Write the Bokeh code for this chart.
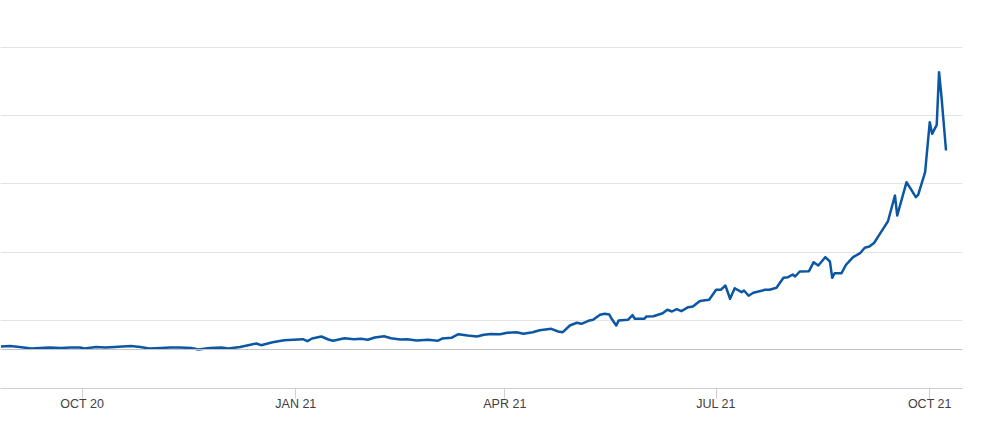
from datetime import datetime, timedelta
from bokeh.plotting import figure
from bokeh.models import Range1d, FixedTicker, Span, ColumnDataSource
from bokeh.embed import file_html
from bokeh.resources import INLINE

# ---- data ----
dates = [
    "2020-08-27", "2020-08-31", "2020-09-04", "2020-09-09", "2020-09-13", "2020-09-17",
    "2020-09-22", "2020-09-26", "2020-09-30", "2020-10-02", "2020-10-07", "2020-10-11",
    "2020-10-15", "2020-10-22", "2020-10-26", "2020-10-30", "2020-11-04", "2020-11-08",
    "2020-11-12", "2020-11-17", "2020-11-20", "2020-11-25", "2020-11-30", "2020-12-03",
    "2020-12-08", "2020-12-11", "2020-12-15", "2020-12-17", "2020-12-22", "2020-12-27",
    "2021-01-04", "2021-01-06", "2021-01-08", "2021-01-12", "2021-01-15", "2021-01-17",
    "2021-01-22", "2021-01-26", "2021-01-29", "2021-02-01", "2021-02-04", "2021-02-08",
    "2021-02-11", "2021-02-15", "2021-02-18", "2021-02-22", "2021-02-27", "2021-03-03",
    "2021-03-05", "2021-03-09", "2021-03-12", "2021-03-16", "2021-03-20", "2021-03-23",
    "2021-03-26", "2021-03-30", "2021-04-02", "2021-04-06", "2021-04-09", "2021-04-13",
    "2021-04-16", "2021-04-21", "2021-04-24", "2021-04-26", "2021-04-29", "2021-05-02",
    "2021-05-04", "2021-05-07", "2021-05-09", "2021-05-12", "2021-05-14", "2021-05-16",
    "2021-05-17", "2021-05-19", "2021-05-20", "2021-05-24", "2021-05-26", "2021-05-27",
    "2021-05-31", "2021-06-01", "2021-06-04", "2021-06-08", "2021-06-10", "2021-06-12",
    "2021-06-14", "2021-06-16", "2021-06-19", "2021-06-21", "2021-06-24", "2021-06-28",
    "2021-07-01", "2021-07-03", "2021-07-05", "2021-07-07", "2021-07-09", "2021-07-12",
    "2021-07-13", "2021-07-15", "2021-07-17", "2021-07-21", "2021-07-22", "2021-07-24",
    "2021-07-27", "2021-07-30", "2021-08-01", "2021-08-03", "2021-08-04", "2021-08-06",
    "2021-08-10", "2021-08-12", "2021-08-14", "2021-08-17", "2021-08-19", "2021-08-20",
    "2021-08-21", "2021-08-24", "2021-08-26", "2021-08-27", "2021-08-29", "2021-09-01",
    "2021-09-03", "2021-09-05", "2021-09-07", "2021-09-10", "2021-09-13", "2021-09-16",
    "2021-09-17", "2021-09-21", "2021-09-25", "2021-09-26", "2021-09-29", "2021-10-01",
    "2021-10-02", "2021-10-04", "2021-10-05", "2021-10-06", "2021-10-08",
]
values = [
    12.32, 12.46, 12.17, 11.73, 11.88, 12.02,
    11.88, 12.02, 12.02, 11.73, 12.17, 12.02,
    12.17, 12.46, 12.17, 11.73, 11.88, 12.02,
    12.02, 11.88, 11.44, 11.88, 12.02, 11.73,
    12.17, 12.61, 13.20, 12.70, 13.58, 14.16,
    14.46, 13.87, 14.66, 15.25, 14.37, 13.99,
    14.75, 14.46, 14.58, 14.28, 14.96, 15.34,
    14.75, 14.37, 14.46, 14.08, 14.28, 13.99,
    14.66, 14.87, 15.92, 15.54, 15.25, 15.75,
    15.98, 15.92, 16.33, 16.51, 16.04, 16.51,
    17.10, 17.51, 16.72, 16.51, 18.48, 19.27,
    18.97, 19.85, 20.15, 21.61, 21.91, 21.70,
    20.44, 18.48, 19.94, 20.15, 21.50, 20.44,
    20.44, 21.11, 21.20, 22.08, 23.08, 22.58,
    23.26, 22.67, 23.84, 24.05, 25.66, 26.01,
    28.94, 28.94, 30.21, 26.31, 29.41, 28.24,
    28.74, 27.19, 28.06, 28.74, 28.94, 28.94,
    29.53, 32.46, 32.64, 33.43, 32.85, 34.31,
    34.40, 37.04, 36.07, 38.51, 37.24, 32.46,
    33.81, 33.81, 36.36, 37.04, 38.51, 39.68,
    41.26, 41.64, 42.67, 45.84, 49.06, 56.60,
    50.73, 60.50, 56.10, 56.80, 63.43, 78.10,
    74.69, 77.33, 92.76, 85.93, 69.80,
]
grid_values = [20, 40, 60, 80, 100]
baseline_value = 11.44
tick_dates = ["2020-10-01", "2021-01-01", "2021-04-01", "2021-07-01", "2021-10-01"]
tick_labels = ["OCT 20", "JAN 21", "APR 21", "JUL 21", "OCT 21"]

x = [datetime.strptime(d, "%Y-%m-%d") for d in dates]
src = ColumnDataSource(dict(x=x, y=values))

oct1 = datetime(2020, 10, 1)
x_start = oct1 - timedelta(days=35.18)
x_end = oct1 + timedelta(days=379.1)

p = figure(
    width=975, height=418, output_backend="svg", toolbar_location=None,
    x_axis_type="datetime",
    x_range=Range1d(x_start, x_end),
    y_range=Range1d(0, 102.64),
    min_border_left=0, min_border_right=13, min_border_top=38, min_border_bottom=30,
)
p.outline_line_color = None
p.background_fill_color = "white"
p.border_fill_color = "white"

p.yaxis.visible = False
p.xgrid.visible = False
p.ygrid.ticker = FixedTicker(ticks=grid_values)
p.ygrid.grid_line_color = "#e4e4e4"
p.ygrid.grid_line_width = 1

def ms(s):
    return (datetime.strptime(s, "%Y-%m-%d") - datetime(1970, 1, 1)).total_seconds() * 1000

tick_ms = [ms(s) for s in tick_dates]
xa = p.xaxis[0]
xa.ticker = FixedTicker(ticks=tick_ms)
xa.major_label_overrides = {t: l for t, l in zip(tick_ms, tick_labels)}
xa.axis_line_color = "#cfcfcf"
xa.axis_line_width = 1
xa.major_tick_line_color = "#cfcfcf"
xa.major_tick_in = 0
xa.major_tick_out = 10
xa.minor_tick_line_color = None
xa.major_label_standoff = -2
xa.major_label_text_font = "Liberation Sans"
xa.major_label_text_font_size = "12.5px"
xa.major_label_text_color = "#404040"

p.add_layout(Span(location=baseline_value, dimension="width",
                  line_color="#c4c4c4", line_width=1))

p.line("x", "y", source=src, line_color="#0b57a4", line_width=2.5,
       line_join="round")

open("out.html", "w").write(file_html(p, INLINE))
